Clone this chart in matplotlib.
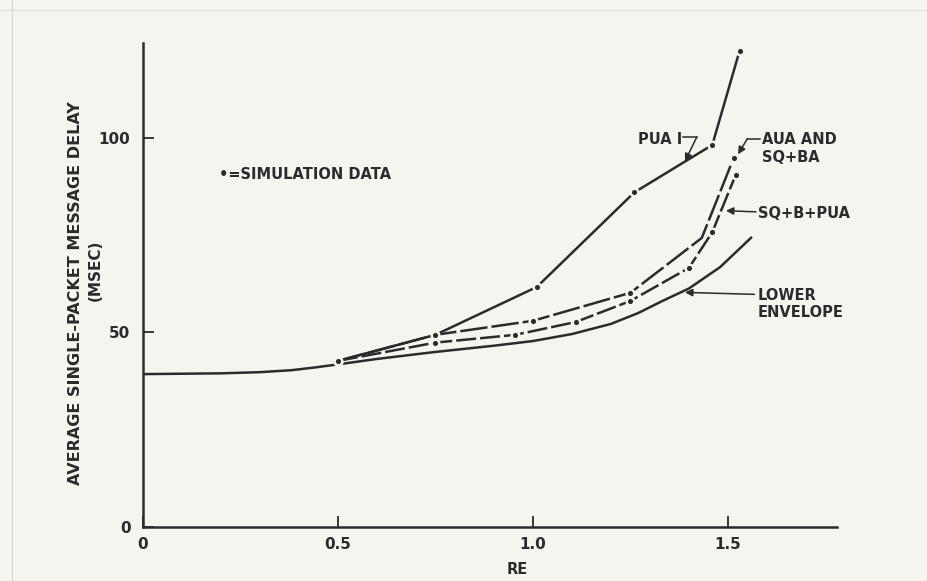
import matplotlib
matplotlib.use("Agg")
import matplotlib.pyplot as plt
from matplotlib.lines import Line2D

# values (RE vs delay in msec)
env_x = [0.0, 0.2, 0.3, 0.38, 0.44, 0.5, 0.6, 0.75, 0.9, 1.0, 1.1, 1.2, 1.27, 1.33, 1.4, 1.48, 1.56]
env_y = [39.3, 39.5, 39.8, 40.3, 41.0, 41.8, 43.2, 45.0, 46.6, 47.8, 49.6, 52.2, 55.0, 58.0, 61.3, 66.8, 74.4]

pua_x = [0.5, 0.75, 1.01, 1.26, 1.46, 1.53]
pua_y = [42.7, 49.4, 61.7, 86.0, 98.2, 122.4]

aua_x = [0.5, 0.75, 1.0, 1.25, 1.433, 1.515]
aua_y = [42.7, 49.4, 53.0, 60.2, 74.3, 94.9]
aua_dots = [0, 1, 2, 3, 5]

sqb_x = [0.5, 0.75, 0.955, 1.11, 1.25, 1.40, 1.46, 1.52]
sqb_y = [42.7, 47.4, 49.4, 52.7, 58.1, 66.6, 75.8, 90.5]

x_ticks = [0, 0.5, 1.0, 1.5]
x_labels = ["0", "0.5", "1.0", "1.5"]
y_ticks = [0, 50, 100]
y_labels = ["0", "50", "100"]

PAPER = "#f6f4ee"
INK = "#2b2b2b"
FONT = dict(family="DejaVu Sans", weight="bold", color=INK)


def draw_curves(ax):
	ax.plot(env_x, env_y, color=INK, lw=1.8, solid_capstyle="round", solid_joinstyle="round")
	dot = dict(marker="o", ms=5.5, mfc=INK, mec=PAPER, mew=1.8)
	ax.plot(pua_x, pua_y, color=INK, lw=1.8, **dot)
	ax.plot(aua_x, aua_y, color=INK, lw=1.8, ls=(0, (11, 1.6)), markevery=aua_dots, **dot)
	ax.plot(sqb_x, sqb_y, color=INK, lw=1.8, ls=(0, (8, 1.6)), **dot)


def draw_labels(ax):
	fs = 10.5
	arrow = dict(arrowstyle="-|>", color=INK, lw=1.1, mutation_scale=11, shrinkA=0, shrinkB=0)
	ax.text(0.195, 90.7, "•=SIMULATION DATA", fontsize=fs, va="center", **FONT)

	ax.text(1.383, 99.5, "PUA I", fontsize=fs, ha="right", va="center", **FONT)
	ax.plot([1.386, 1.42], [100.2, 100.2], color=INK, lw=1.1)
	ax.annotate("", xy=(1.39, 94.0), xytext=(1.42, 100.2), arrowprops=arrow)

	ax.text(1.588, 99.5, "AUA AND", fontsize=fs, va="center", **FONT)
	ax.text(1.588, 95.0, "SQ+BA", fontsize=fs, va="center", **FONT)
	ax.plot([1.55, 1.583], [99.8, 99.8], color=INK, lw=1.1)
	ax.annotate("", xy=(1.526, 95.8), xytext=(1.55, 99.8), arrowprops=arrow)

	ax.text(1.578, 80.7, "SQ+B+PUA", fontsize=fs, va="center", **FONT)
	ax.annotate("", xy=(1.495, 81.3), xytext=(1.572, 81.0), arrowprops=arrow)

	ax.text(1.575, 59.6, "LOWER", fontsize=fs, va="center", **FONT)
	ax.text(1.575, 55.2, "ENVELOPE", fontsize=fs, va="center", **FONT)
	ax.annotate("", xy=(1.39, 60.3), xytext=(1.568, 59.8), arrowprops=arrow)

	ax.text(0.96, -11.0, "RE", fontsize=fs, ha="center", va="center", **FONT)


def main():
	fig = plt.figure(figsize=(9.27, 5.81), dpi=100, facecolor=PAPER)
	ax = fig.add_axes([0.1543, 0.0929, 0.7487, 0.8331], facecolor=PAPER)
	ax.set_xlim(0, 1.78)
	ax.set_ylim(0, 124.4)
	for s in ["top", "right"]:
		ax.spines[s].set_visible(False)
	for s in ["left", "bottom"]:
		ax.spines[s].set_color(INK)
		ax.spines[s].set_linewidth(1.8)

	ax.set_xticks(x_ticks)
	ax.set_xticklabels(x_labels)
	ax.set_yticks(y_ticks)
	ax.set_yticklabels(y_labels)
	ax.tick_params(direction="in", length=8, width=1.3, color=INK, labelcolor=INK, labelsize=11)
	ax.tick_params(axis="x", pad=7)
	ax.tick_params(axis="y", pad=9)
	for t in ax.get_xticklabels() + ax.get_yticklabels():
		t.set_fontweight("bold")

	draw_curves(ax)
	draw_labels(ax)

	fig.text(0.081, 0.496, "AVERAGE SINGLE-PACKET MESSAGE DELAY", rotation=90,
		fontsize=11.5, ha="center", va="center", **FONT)
	fig.text(0.1025, 0.535, "(MSEC)", rotation=90, fontsize=11, ha="center", va="center", **FONT)

	# faint page edges from the scan
	fig.add_artist(Line2D([0.013, 0.013], [0.0, 1.0], color="#d9d6cf", lw=0.8))
	fig.add_artist(Line2D([0.0, 1.0], [0.982, 0.982], color="#e2dfd8", lw=0.8))

	fig.savefig("out.png", dpi=100, facecolor=PAPER)


if __name__ == '__main__':
	main()
